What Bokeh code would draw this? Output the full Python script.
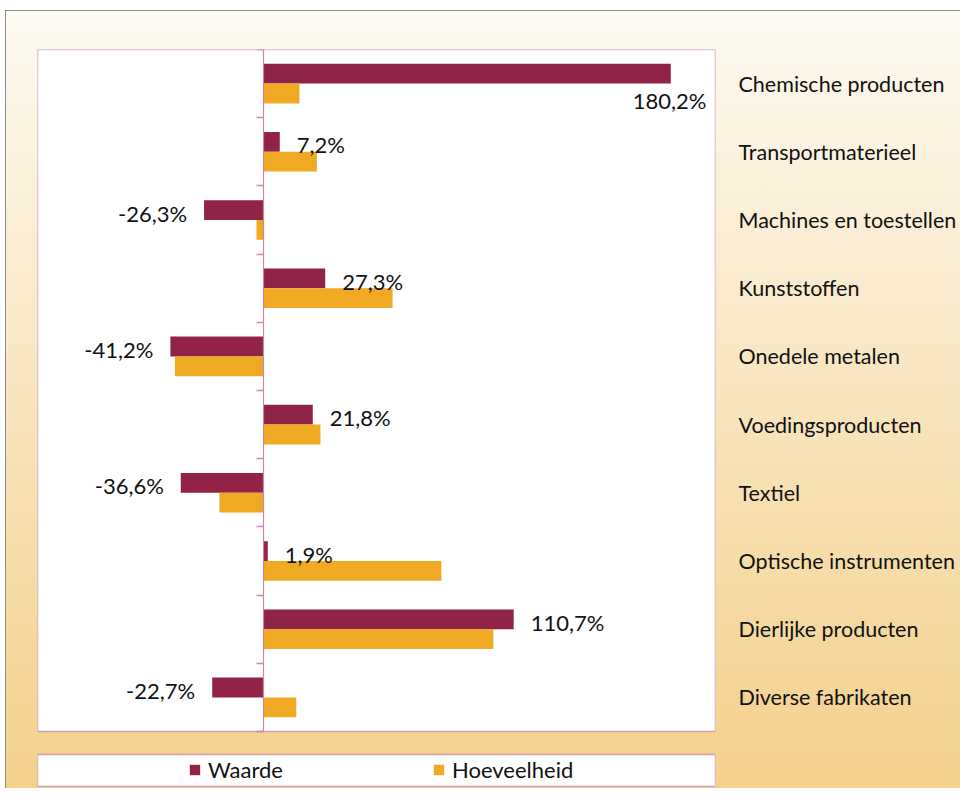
from bokeh.plotting import figure
from bokeh.models import (ColumnDataSource, Range1d, LinearAxis, CustomJSTickFormatter,
                          FixedTicker, Legend, LegendItem, BoxAnnotation)
from bokeh.transform import dodge
from bokeh.core.properties import value
from bokeh.embed import file_html
from bokeh.resources import INLINE

categories = ["Chemische producten", "Transportmaterieel", "Machines en toestellen",
              "Kunststoffen", "Onedele metalen", "Voedingsproducten", "Textiel",
              "Optische instrumenten", "Dierlijke producten", "Diverse fabrikaten"]
waarde = [180.2, 7.2, -26.3, 27.3, -41.2, 21.8, -36.6, 1.9, 110.7, -22.7]
hoeveelheid = [15.9, 23.6, -3.1, 57.1, -39.2, 25.2, -19.5, 78.7, 101.7, 14.5]
series_names = ["Waarde", "Hoeveelheid"]
x_min, x_max = -100, 200

FONT = "Lato"
C_W = "#912346"
C_H = "#efa922"
PINK = "#d0a0b4"
TXT = "#111111"

n = len(categories)
# layout (pixels)
PLOT_W, PLOT_H = 678, 682        # white plot area
LEG_GAP, LEG_H = 23, 32          # gap plot->legend box, legend box height
FH = PLOT_H + LEG_GAP + LEG_H + 1
unit_px = PLOT_H / n
y_bottom = FH / unit_px
px_per_unit = PLOT_W / (x_max - x_min)

p = figure(frame_width=PLOT_W, frame_height=FH,
           min_border_left=31, min_border_right=245, min_border_top=38, min_border_bottom=1,
           x_range=Range1d(x_min, x_max), y_range=Range1d(y_bottom, 0),
           output_backend="svg", toolbar_location=None,
           x_axis_location=None, y_axis_location=None)
p.xgrid.visible = False
p.ygrid.visible = False
p.background_fill_color = None
p.border_fill_color = None
p.outline_line_color = None
p.styles = {
    "background": "linear-gradient(180deg, #fdfaf2 0%, #f9e7c3 45%, #f4d08b 100%)",
    "border-top": "1px solid #8c8c8c",
    "border-left": "1px solid #8c8c8c",
    "margin-top": "10px",
    "margin-left": "5px",
}

# white plot area with pink border
plot_box = BoxAnnotation(left=x_min, right=x_max, top=0, bottom=n,
                         fill_color="white", fill_alpha=1, line_color=PINK, line_alpha=1,
                         line_width=1.5, level="underlay")
p.add_layout(plot_box)

# white legend box
leg_top = n + LEG_GAP / unit_px
leg_bot = n + (LEG_GAP + LEG_H) / unit_px
leg_box = BoxAnnotation(left=x_min, right=x_max, top=leg_top, bottom=leg_bot,
                        fill_color="white", fill_alpha=1, line_color=PINK, line_alpha=1,
                        line_width=1.5, level="underlay")
p.add_layout(leg_box)

ycent = [i + 0.5 for i in range(n)]

# category label axis on the right
cat_axis = LinearAxis(ticker=FixedTicker(ticks=ycent),
                      formatter=CustomJSTickFormatter(args=dict(cats=categories),
                                                      code="return cats[Math.floor(tick)];"),
                      axis_line_color=None,
                      major_tick_line_color=None, minor_tick_line_color=None,
                      major_tick_out=0, major_tick_in=0, major_label_standoff=23,
                      major_label_text_font=FONT, major_label_text_font_size="21.5px",
                      major_label_text_color=TXT)
p.add_layout(cat_axis, "right")

# zero axis with boundary ticks
zero_axis = LinearAxis(fixed_location=0, bounds=(0, n),
                       ticker=FixedTicker(ticks=list(range(n + 1))),
                       major_tick_out=7, major_tick_in=0, minor_tick_out=0, minor_tick_in=0,
                       axis_line_color="#c48aa3", major_tick_line_color="#c48aa3",
                       axis_line_width=1.2, major_tick_line_width=1.3,
                       major_label_text_color=None, major_label_text_font_size="1px")
p.add_layout(zero_axis, "left")

labels = [f"{v:.1f}%".replace(".", ",") for v in waarde]
lx, lxo, lyo, lal = [], [], [], []
for v, t in zip(waarde, labels):
    est_w = len(t) * 12
    if v >= 0 and (v - x_min) * px_per_unit + 17 + est_w > PLOT_W:
        lx.append(x_max); lxo.append(-9); lyo.append(27); lal.append("right")
    elif v >= 0:
        lx.append(v); lxo.append(17); lyo.append(3); lal.append("left")
    else:
        lx.append(v); lxo.append(-17); lyo.append(3); lal.append("right")

src = ColumnDataSource(dict(y=ycent, cat=categories, waarde=waarde, hoeveelheid=hoeveelheid,
                            lbl=labels, lx=lx, lxo=lxo, lyo=lyo, lal=lal))

bw = 0.29
rw = p.hbar(y=dodge("y", -bw / 2), left=0, right="waarde", height=bw,
            source=src, fill_color=C_W, line_color=None)
rh = p.hbar(y=dodge("y", bw / 2), left=0, right="hoeveelheid", height=bw,
            source=src, fill_color=C_H, line_color=None)

p.text(x="lx", y=dodge("y", -bw / 2), text="lbl", x_offset="lxo", y_offset="lyo",
       text_align="lal", text_baseline="middle", source=src,
       text_font=value(FONT), text_font_size="22px", text_color=TXT)

legend = Legend(items=[LegendItem(label=series_names[0], renderers=[rw]),
                       LegendItem(label=series_names[1], renderers=[rh])],
                orientation="horizontal", location=(151, 4),
                glyph_width=13, glyph_height=13, label_standoff=7, label_width=224,
                spacing=0, padding=0, margin=0, border_line_color=None,
                background_fill_alpha=0, label_text_font=FONT, label_text_font_size="22px",
                label_text_color=TXT)
p.add_layout(legend)

open("out.html", "w").write(file_html(p, INLINE))
